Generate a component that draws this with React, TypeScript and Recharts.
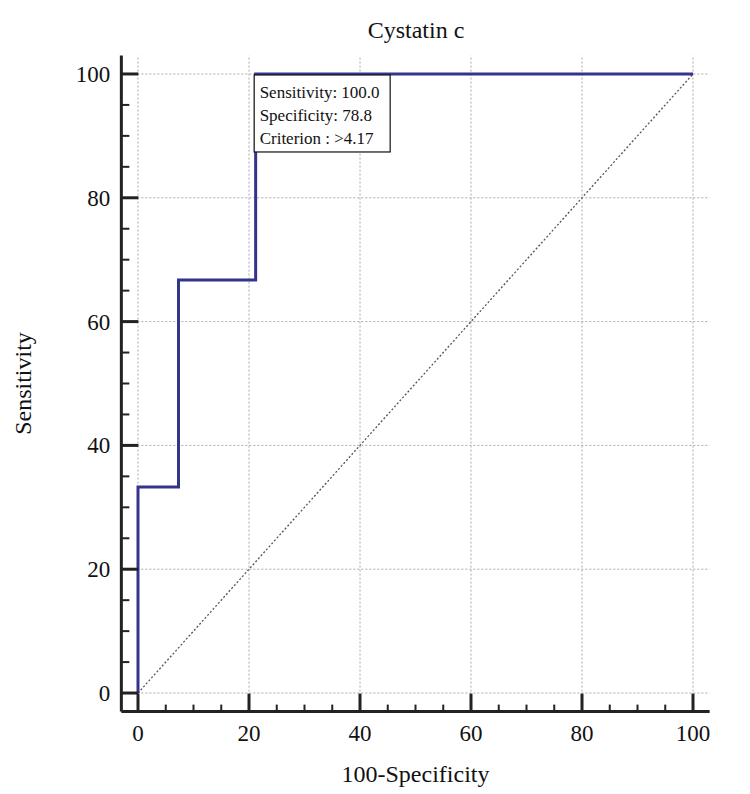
import { ComposedChart, Line, XAxis, YAxis, ReferenceLine, ReferenceDot } from 'recharts'

// ROC curve points (100-Specificity, Sensitivity)
const rocFpr = [0, 0, 7.3, 7.3, 21.2, 21.2, 100]
const rocSens = [0, 33.3, 33.3, 66.7, 66.7, 100, 100]
const diagFpr = [0, 100]
const diagSens = [0, 100]

const axisTicks = [0, 5, 10, 15, 20, 25, 30, 35, 40, 45, 50, 55, 60, 65, 70, 75, 80, 85, 90, 95, 100]
const gridTicks = [0, 20, 40, 60, 80, 100]

const cutoff = { fpr: 21.2, sens: 100 }
const cutoffLines = ['Sensitivity: 100.0', 'Specificity: 78.8', 'Criterion : >4.17']

const rocData = rocFpr.map((x, i) => ({ x, y: rocSens[i] }))
const diagData = diagFpr.map((x, i) => ({ x, y: diagSens[i] }))

const FONT = '"Liberation Serif", "Times New Roman", serif'
const INK = '#222'

function XTick(props: any) {
  const { x, y, payload } = props
  const major = payload.value % 20 === 0
  return (
    <g>
      <line x1={x} x2={x} y1={y} y2={y - (major ? 18 : 7)} stroke={INK} strokeWidth={major ? 3 : 2} />
      {major && (
        <text x={x} y={y + 29.5} textAnchor="middle" fontSize={23} fontFamily={FONT} fill="#111">
          {payload.value}
        </text>
      )}
    </g>
  )
}

function YTick(props: any) {
  const { x, y, payload } = props
  const major = payload.value % 20 === 0
  return (
    <g>
      <line x1={x} x2={x + (major ? 17 : 8)} y1={y} y2={y} stroke={INK} strokeWidth={major ? 3 : 2} />
      {major && (
        <text x={x - 11} y={y + 8} textAnchor="end" fontSize={23} fontFamily={FONT} fill="#111">
          {payload.value}
        </text>
      )}
    </g>
  )
}

function CutoffBox(props: any) {
  const { cx, cy } = props
  if (cx == null || cy == null) return null
  return (
    <g>
      <rect x={cx - 1.5} y={cy + 1} width={136} height={77} fill="#fff" stroke="#111" strokeWidth={1.2} />
      {cutoffLines.map((t, i) => (
        <text key={t} x={cx + 4} y={cy + 24 + i * 23} fontSize={17} fontFamily={FONT} fill="#111">
          {t}
        </text>
      ))}
    </g>
  )
}

export default function App() {
  return (
    <div style={{ position: 'absolute', left: 0, top: 0, width: 750, height: 794, background: '#fff' }}>
      <div
        style={{
          position: 'absolute',
          left: 316,
          top: 17.6,
          width: 200,
          textAlign: 'center',
          fontFamily: FONT,
          fontSize: 24,
          lineHeight: '24px',
          color: '#111',
        }}
      >
        Cystatin c
      </div>
      <ComposedChart width={750} height={794} margin={{ top: 55.4, right: 40.35, bottom: 10.4, left: 21.35 }}>
        {gridTicks.map((v) => (
          <ReferenceLine key={`gx${v}`} x={v} stroke="#aaa" strokeDasharray="2 2" />
        ))}
        {gridTicks.map((v) => (
          <ReferenceLine key={`gy${v}`} y={v} stroke="#aaa" strokeDasharray="2 2" />
        ))}
        <XAxis
          type="number"
          dataKey="x"
          domain={[-3, 103]}
          ticks={axisTicks}
          interval={0}
          allowDataOverflow
          height={72}
          tickSize={0}
          tickMargin={0}
          tickLine={false}
          tick={<XTick />}
          axisLine={{ stroke: INK, strokeWidth: 3 }}
          label={{ value: '100-Specificity', position: 'insideBottom', offset: 2, fontSize: 24, fontFamily: FONT, fill: '#111' }}
        />
        <YAxis
          type="number"
          dataKey="y"
          domain={[-3, 103]}
          ticks={axisTicks}
          interval={0}
          allowDataOverflow
          width={100}
          tickSize={0}
          tickMargin={0}
          tickLine={false}
          tick={<YTick />}
          axisLine={{ stroke: INK, strokeWidth: 3 }}
          label={{
            value: 'Sensitivity',
            angle: -90,
            position: 'insideLeft',
            offset: 1,
            fontSize: 24,
            fontFamily: FONT,
            fill: '#111',
            style: { textAnchor: 'middle' },
          }}
        />
        <Line
          data={diagData}
          dataKey="y"
          type="linear"
          stroke="#555"
          strokeWidth={1.3}
          strokeDasharray="2 2"
          dot={false}
          activeDot={false}
          isAnimationActive={false}
        />
        <Line
          data={rocData}
          dataKey="y"
          type="linear"
          stroke="#34348c"
          strokeWidth={3}
          dot={false}
          activeDot={false}
          isAnimationActive={false}
        />
        <ReferenceDot x={cutoff.fpr} y={cutoff.sens} r={0} shape={<CutoffBox />} />
      </ComposedChart>
    </div>
  )
}
